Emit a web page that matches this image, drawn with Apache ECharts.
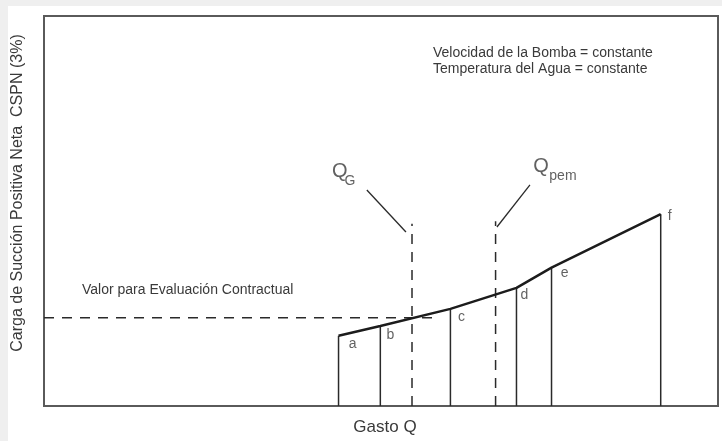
<!DOCTYPE html>
<html>
<head>
<meta charset="utf-8">
<script src="https://cdn.jsdelivr.net/npm/echarts@6/dist/echarts.min.js"></script>
<style>
  html, body { margin: 0; padding: 0; background: #efefef; }
  #chart { width: 722px; height: 441px; }
</style>
</head>
<body>
<div id="chart"></div>
<script>
// Operating points on the NPSH (CSPN) curve, flow Q vs. required head (relative units)
const pointNames = ['a', 'b', 'c', 'd', 'e', 'f'];
const flowQ = [43.7, 49.9, 60.3, 70.1, 75.3, 91.5];
const cspn = [18.0, 20.5, 24.9, 30.3, 35.5, 49.2];

// Guarantee flow and permitted flow markers
const markerNames = ['G', 'pem'];
const markerQ = [54.6, 67.0];
const markerTop = [46.7, 47.4];

// Leader lines from the Q labels to the dashed markers
const leaderFrom = [[47.9, 55.4], [72.1, 56.7]];
const leaderTo = [[53.7, 44.6], [67.2, 45.9]];

// Contractual evaluation value (horizontal reference)
const contractValue = 22.6;
const contractEndQ = 58.3;

const FONT = '"Liberation Sans", Arial, Helvetica, sans-serif';
const INK = '#2a2a2a';
const TEXT = '#3a3a3a';

function segment(style) {
  return function (params, api) {
    const p1 = api.coord([api.value(0), api.value(1)]);
    const p2 = api.coord([api.value(2), api.value(3)]);
    return {
      type: 'line',
      shape: { x1: p1[0], y1: p1[1], x2: p2[0], y2: p2[1] },
      style: style
    };
  };
}

const curveData = flowQ.map((q, i) => [q, cspn[i]]);
const dropData = flowQ.map((q, i) => [q, 0, q, cspn[i]]);
const markerData = markerQ.map((q, i) => [q, 0, q, markerTop[i]]);
const leaderData = leaderFrom.map((p, i) => [p[0], p[1], leaderTo[i][0], leaderTo[i][1]]);

const pointLabelOffsets = [[14, 8], [10, 9], [11, 8], [8, 7], [13, 6], [9, 2]];
const pointLabels = flowQ.map((q, i) => ({
  value: [q, cspn[i]],
  label: { formatter: pointNames[i], offset: pointLabelOffsets[i] }
}));

const qOffsets = [[-27, -18], [11, -18]];
const subOffsets = [[-17, -9], [33, -9]];
const qLabels = [];
leaderFrom.forEach((p, i) => {
  qLabels.push({ value: p, label: { formatter: 'Q', offset: qOffsets[i], fontSize: 20 } });
  qLabels.push({ value: p, label: { formatter: markerNames[i], offset: subOffsets[i], fontSize: 14 } });
});

const chart = echarts.init(document.getElementById('chart'), null, { renderer: 'canvas' });
chart.setOption({
  backgroundColor: 'transparent',
  animation: false,
  textStyle: { fontFamily: FONT },
  grid: {
    left: 44, top: 16, right: 4, bottom: 35,
    show: true, borderColor: '#5a5a5a', borderWidth: 2, backgroundColor: '#fff'
  },
  graphic: [
    { type: 'rect', z: -10, silent: true, shape: { x: 8, y: 6, width: 714, height: 435 }, style: { fill: '#ffffff' } },
    {
      type: 'text', left: 433, top: 45, z: 10,
      style: {
        text: 'Velocidad de la Bomba = constante\nTemperatura del Agua = constante',
        font: '14px ' + FONT, fill: TEXT, lineHeight: 16
      }
    },
    {
      type: 'text', left: 82, top: 283, z: 10,
      style: { text: 'Valor para Evaluación Contractual', font: '14px ' + FONT, fill: TEXT }
    }
  ],
  xAxis: {
    type: 'value', min: 0, max: 100,
    axisLine: { show: false }, axisTick: { show: false }, axisLabel: { show: false }, splitLine: { show: false },
    name: 'Gasto Q', nameLocation: 'middle', nameGap: 13,
    nameTextStyle: { fontSize: 17, color: TEXT, fontFamily: FONT, padding: [0, 0, 0, 8] }
  },
  yAxis: {
    type: 'value', min: 0, max: 100,
    axisLine: { show: false }, axisTick: { show: false }, axisLabel: { show: false }, splitLine: { show: false },
    name: 'Carga de Succión Positiva Neta  CSPN (3%)', nameLocation: 'middle', nameGap: 18,
    nameTextStyle: { fontSize: 16, color: TEXT, fontFamily: FONT, padding: [0, 0, 0, 36] }
  },
  series: [
    {
      type: 'custom', name: 'verticales', renderItem: segment({ stroke: INK, lineWidth: 1.5 }),
      encode: { x: [0, 2], y: [1, 3] }, data: dropData, silent: true, z: 2
    },
    {
      type: 'custom', name: 'marcadores', renderItem: segment({ stroke: INK, lineWidth: 1.5, lineDash: [10, 8] }),
      encode: { x: [0, 2], y: [1, 3] }, data: markerData, silent: true, z: 2
    },
    {
      type: 'custom', name: 'valor contractual', renderItem: segment({ stroke: INK, lineWidth: 1.5, lineDash: [10, 8] }),
      encode: { x: [0, 2], y: [1, 3] }, data: [[0, contractValue, contractEndQ, contractValue]], silent: true, z: 2
    },
    {
      type: 'custom', name: 'guias', renderItem: segment({ stroke: INK, lineWidth: 1.3 }),
      encode: { x: [0, 2], y: [1, 3] }, data: leaderData, silent: true, z: 2
    },
    {
      type: 'line', name: 'CSPN', data: curveData, symbol: 'none',
      lineStyle: { color: '#1c1c1c', width: 2.5 }, z: 3, silent: true
    },
    {
      type: 'scatter', name: 'puntos', data: pointLabels, symbolSize: 1,
      itemStyle: { color: 'rgba(0,0,0,0)' }, silent: true, z: 4,
      label: { show: true, position: 'inside', fontSize: 14, color: TEXT, fontFamily: FONT }
    },
    {
      type: 'scatter', name: 'Q', data: qLabels, symbolSize: 1,
      itemStyle: { color: 'rgba(0,0,0,0)' }, silent: true, z: 4,
      label: { show: true, position: 'inside', color: TEXT, fontFamily: FONT }
    }
  ]
});
</script>
</body>
</html>
